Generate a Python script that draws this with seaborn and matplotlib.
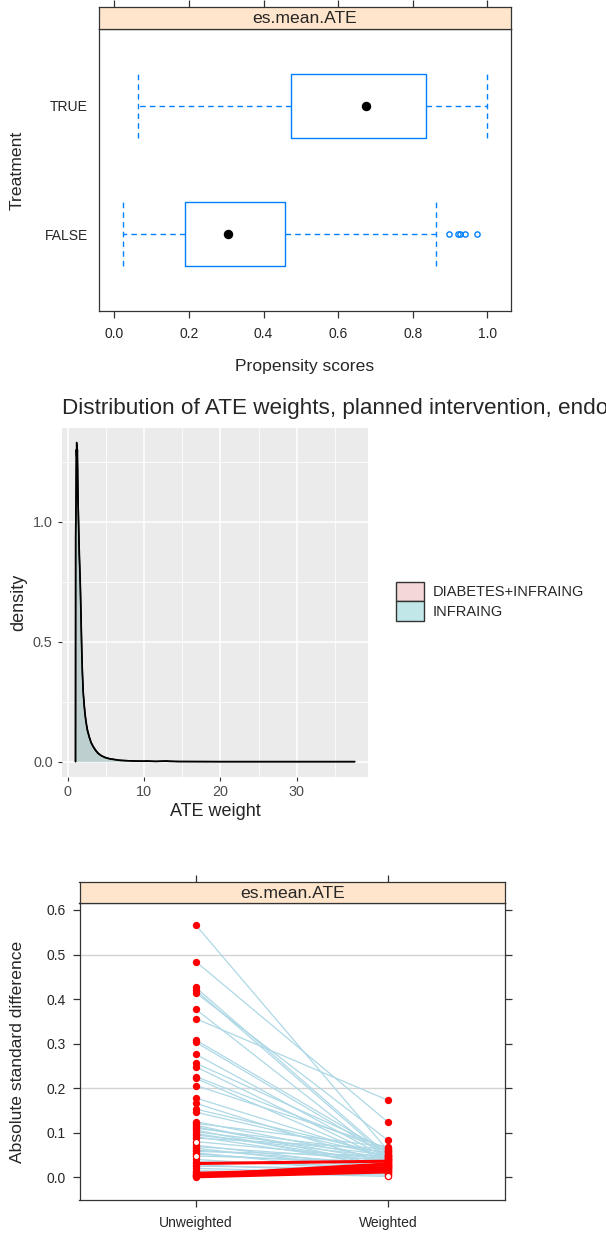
import numpy as np
import pandas as pd
import matplotlib
matplotlib.use("Agg")
import matplotlib.pyplot as plt
from matplotlib.patches import Patch
from matplotlib.ticker import MultipleLocator
import seaborn as sns

# ---- panel 1: propensity scores by treatment (es.mean.ATE)
treat_levels = ["FALSE", "TRUE"]
ps_whislo = [0.024, 0.063]
ps_q1 = [0.190, 0.473]
ps_med = [0.305, 0.674]
ps_q3 = [0.458, 0.835]
ps_whishi = [0.863, 0.998]
ps_fliers = [[0.896, 0.922, 0.927, 0.941, 0.972], []]

# ---- panel 2: ATE weight densities
weight_groups = ["DIABETES+INFRAING", "INFRAING"]
ate_weight = [1.00, 1.02, 1.06, 1.10, 1.15, 1.20, 1.25, 1.30, 1.36, 1.42, 1.48,
              1.55, 1.63, 1.72, 1.81, 1.91, 2.02, 2.14, 2.26, 2.40, 2.56, 2.81,
              3.05, 3.34, 3.65, 3.99, 4.40, 4.87, 5.40, 5.96, 6.80, 7.70, 8.80,
              9.90, 10.30, 11.50, 12.90, 13.30, 14.50, 20.0, 30.0, 37.6]
dens_diab = [0, 0.93, 1.02, 1.18, 1.33, 1.25, 1.30, 1.22, 1.06, 0.98, 0.90,
             0.83, 0.75, 0.62, 0.49, 0.37, 0.29, 0.24, 0.20, 0.165, 0.135, 0.104,
             0.080, 0.063, 0.048, 0.035, 0.025, 0.018, 0.013, 0.010, 0.006, 0.004, 0.003,
             0.002, 0.003, 0.001, 0.003, 0.002, 0.0005, 0, 0, 0]
dens_infra = [0, 0.97, 1.08, 1.30, 1.27, 1.32, 1.20, 1.10, 1.05, 0.95, 0.86,
              0.80, 0.72, 0.60, 0.46, 0.36, 0.28, 0.23, 0.19, 0.158, 0.128, 0.100,
              0.078, 0.060, 0.045, 0.033, 0.024, 0.017, 0.012, 0.009, 0.005, 0.004, 0.002,
              0.002, 0.002, 0.001, 0.002, 0.001, 0.0005, 0, 0, 0]

# ---- panel 3: absolute standardized differences before / after weighting
es_unweighted = [0.566, 0.484, 0.426, 0.420, 0.414, 0.377, 0.356, 0.308, 0.303, 0.276,
                 0.256, 0.248, 0.226, 0.222, 0.206, 0.178, 0.166, 0.153, 0.146, 0.125,
                 0.121, 0.117, 0.113, 0.110, 0.106, 0.102, 0.098, 0.095, 0.091, 0.088,
                 0.080, 0.072, 0.069, 0.065, 0.061, 0.058, 0.055, 0.052, 0.048, 0.040,
                 0.035, 0.031, 0.028, 0.025, 0.020, 0.015, 0.012, 0.009, 0.007, 0.005,
                 0.004, 0.003, 0.002, 0.001]
es_weighted = [0.060, 0.124, 0.050, 0.045, 0.083, 0.040, 0.173, 0.055, 0.048, 0.042,
               0.062, 0.038, 0.058, 0.035, 0.066, 0.044, 0.030, 0.052, 0.047, 0.040,
               0.068, 0.025, 0.036, 0.056, 0.020, 0.050, 0.033, 0.045, 0.028, 0.064,
               0.041, 0.022, 0.038, 0.018, 0.030, 0.048, 0.012, 0.026, 0.034, 0.015,
               0.024, 0.036, 0.010, 0.019, 0.008, 0.005, 0.002, 0.020, 0.014, 0.030,
               0.028, 0.016, 0.022, 0.012]
open_unweighted = [30, 38]   # covariates drawn with hollow markers
open_weighted = [46]
es_labels = ["Unweighted", "Weighted"]

W, H = 606, 1237
sns.set_style("white")
plt.rcParams["font.family"] = ["Liberation Sans", "DejaVu Sans"]

fig = plt.figure(figsize=(W / 100, H / 100), dpi=100)


def add_ax(l, t, r, b):
    return fig.add_axes([l / W, 1 - b / H, (r - l) / W, (b - t) / H])


def lattice_frame(ax):
    for s in ax.spines.values():
        s.set_visible(True)
        s.set_color("#333333")
        s.set_linewidth(0.9)


blue = "#0080ff"

# ================= panel 1 =================
ax1 = add_ax(98.5, 29, 511, 311)
st1 = add_ax(98.5, 6.7, 511, 29)

stats = []
for i in range(len(treat_levels)):
    stats.append(dict(whislo=ps_whislo[i], q1=ps_q1[i], med=ps_med[i], q3=ps_q3[i],
                      whishi=ps_whishi[i], fliers=ps_fliers[i]))
ax1.bxp(stats, positions=[1, 2], orientation="horizontal", widths=0.5, capwidths=0.5,
        boxprops=dict(color=blue, linewidth=1.0),
        whiskerprops=dict(color=blue, linewidth=1.0, linestyle=(0, (4, 3))),
        capprops=dict(color=blue, linewidth=1.0, linestyle=(0, (4, 3))),
        medianprops=dict(linewidth=0),
        flierprops=dict(marker="o", markerfacecolor="none", markeredgecolor=blue,
                        markersize=3.8, markeredgewidth=1.0))
ax1.plot(ps_med, [1, 2], "o", color="black", markersize=5.8, zorder=5)
ax1.set_xlim(-0.042, 1.063)
ax1.set_ylim(0.4, 2.6)
ax1.set_xticks(np.arange(0, 1.01, 0.2))
ax1.set_xticklabels([f"{v:.1f}" for v in np.arange(0, 1.01, 0.2)])
ax1.set_yticks([1, 2])
ax1.set_yticklabels(treat_levels)
ax1.tick_params(axis="x", direction="out", length=5, width=0.9, color="#333333",
                labelsize=10, pad=6.5, bottom=True)
ax1.tick_params(axis="y", length=0, labelsize=10, pad=7.5, left=True)
lattice_frame(ax1)

st1.set_facecolor("#FFE5CC")
st1.set_xlim(ax1.get_xlim())
st1.set_ylim(0, 1)
st1.set_xticks(np.arange(0, 1.01, 0.2))
st1.set_yticks([])
st1.tick_params(axis="x", top=True, bottom=False, labeltop=False, labelbottom=False,
                direction="out", length=5, width=0.9, color="#333333")
st1.text(0.5, 0.45, "es.mean.ATE", transform=st1.transAxes, ha="center", va="center",
         fontsize=12.6)
lattice_frame(st1)

fig.text(304.7 / W, 1 - 367 / H, "Propensity scores", ha="center", va="center", fontsize=12.6)
fig.text(17.5 / W, 1 - 170 / H, "Treatment", ha="center", va="center", rotation=90,
         fontsize=12.6)

# ================= panel 2 =================
ax2 = add_ax(62, 428, 367.7, 777)
ax2.set_facecolor("#EBEBEB")
for s in ax2.spines.values():
    s.set_visible(False)
fill_cols = ["#F8766D", "#00BFC4"]
for dens, col in zip([dens_diab, dens_infra], fill_cols):
    ax2.fill_between(ate_weight, dens, 0, color=col, alpha=0.2, linewidth=0, zorder=2)
    sns.lineplot(x=ate_weight, y=dens, sort=False, color="black", linewidth=1.1,
                 ax=ax2, zorder=3)
ax2.set_xlim(-0.77, 39.3)
ax2.set_ylim(-0.064, 1.39)
ax2.set_xticks([0, 10, 20, 30])
ax2.set_yticks([0, 0.5, 1.0])
ax2.set_yticklabels(["0.0", "0.5", "1.0"])
ax2.xaxis.set_minor_locator(MultipleLocator(5))
ax2.yaxis.set_minor_locator(MultipleLocator(0.25))
ax2.grid(True, which="major", color="white", linewidth=1.1, zorder=0)
ax2.grid(True, which="minor", color="white", linewidth=0.55, zorder=0)
ax2.set_axisbelow(True)
ax2.tick_params(which="major", direction="out", length=3.2, width=0.8, color="#333333",
                labelsize=10.4, labelcolor="#4D4D4D", bottom=True, left=True)
ax2.tick_params(axis="x", pad=2.5)
ax2.tick_params(axis="y", pad=3.5)
ax2.tick_params(which="minor", length=0)
ax2.set_xlabel("")
ax2.set_ylabel("")

fig.text(62 / W, 1 - 409 / H, "Distribution of ATE weights, planned intervention, endo",
         ha="left", va="center", fontsize=16.2)
fig.text(18.6 / W, 1 - 602.5 / H, "density", ha="center", va="center", rotation=90, fontsize=13)
fig.text(214.9 / W, 1 - 811.7 / H, "ATE weight", ha="center", va="center", fontsize=13)

key_cols = ["#F4D7D7", "#C2E7E8"]
handles = [Patch(facecolor=c, edgecolor="#333333", linewidth=1.0) for c in key_cols]
fig.legend(handles, weight_groups, loc="upper left",
           bbox_to_anchor=(395.7 / W, 1 - 581.7 / H), frameon=False, fontsize=10.5,
           handlelength=1.92, handleheight=1.71, labelspacing=0, handletextpad=0.62,
           borderpad=0, borderaxespad=0)

# ================= panel 3 =================
ax3 = add_ax(79.5, 903.3, 505, 1200)
st3 = add_ax(79.5, 881.7, 505, 903.3)

n_cov = len(es_unweighted)
long_df = pd.DataFrame({
    "covariate": list(range(n_cov)) * 2,
    "pos": [1] * n_cov + [2] * n_cov,
    "value": es_unweighted + es_weighted,
})
long_df["change"] = np.where(
    np.array(es_weighted * 2) > np.array(es_unweighted * 2), "up", "down")

for v in [0.2, 0.5]:
    ax3.axhline(v, color="#D3D3D3", linewidth=1.0, zorder=0)
sns.lineplot(data=long_df[long_df["change"] == "down"], x="pos", y="value",
             units="covariate", estimator=None, color="#ADD8E6", linewidth=0.9,
             ax=ax3, zorder=2)
sns.lineplot(data=long_df[long_df["change"] == "up"], x="pos", y="value",
             units="covariate", estimator=None, color="red", linewidth=2.2,
             ax=ax3, zorder=3)

long_df["hollow"] = False
long_df.loc[[i for i in open_unweighted], "hollow"] = True
long_df.loc[[n_cov + i for i in open_weighted], "hollow"] = True
filled = long_df[~long_df["hollow"]]
hollow = long_df[long_df["hollow"]]
sns.scatterplot(data=filled, x="pos", y="value", color="red", s=28, linewidth=0,
                ax=ax3, zorder=4)
sns.scatterplot(data=hollow, x="pos", y="value", facecolor="white", edgecolor="red",
                s=20, linewidth=0.9, ax=ax3, zorder=5)

ax3.set_xlim(0.394, 2.61)
ax3.set_ylim(-0.051, 0.615)
ax3.set_xticks([1, 2])
ax3.set_xticklabels(es_labels)
ax3.set_yticks(np.arange(0, 0.61, 0.1))
ax3.set_yticklabels([f"{v:.1f}" for v in np.arange(0, 0.61, 0.1)])
ax3.tick_params(axis="both", direction="out", length=5, width=0.9, color="#333333",
                labelsize=10, bottom=True, left=True, right=True)
ax3.tick_params(axis="x", pad=6.5)
ax3.tick_params(axis="y", pad=5)
ax3.set_xlabel("")
ax3.set_ylabel("")
lattice_frame(ax3)

st3.set_facecolor("#FFE5CC")
st3.set_xlim(ax3.get_xlim())
st3.set_ylim(0, 1)
st3.set_xticks([1, 2])
st3.set_yticks([])
st3.tick_params(axis="x", top=True, bottom=False, labeltop=False, labelbottom=False,
                direction="out", length=5, width=0.9, color="#333333")
st3.text(0.5, 0.45, "es.mean.ATE", transform=st3.transAxes, ha="center", va="center",
         fontsize=12.6)
lattice_frame(st3)

fig.text(17.5 / W, 1 - 1052 / H, "Absolute standard difference", ha="center", va="center",
         rotation=90, fontsize=12.6)

fig.savefig("out.png", dpi=100, facecolor="white")
